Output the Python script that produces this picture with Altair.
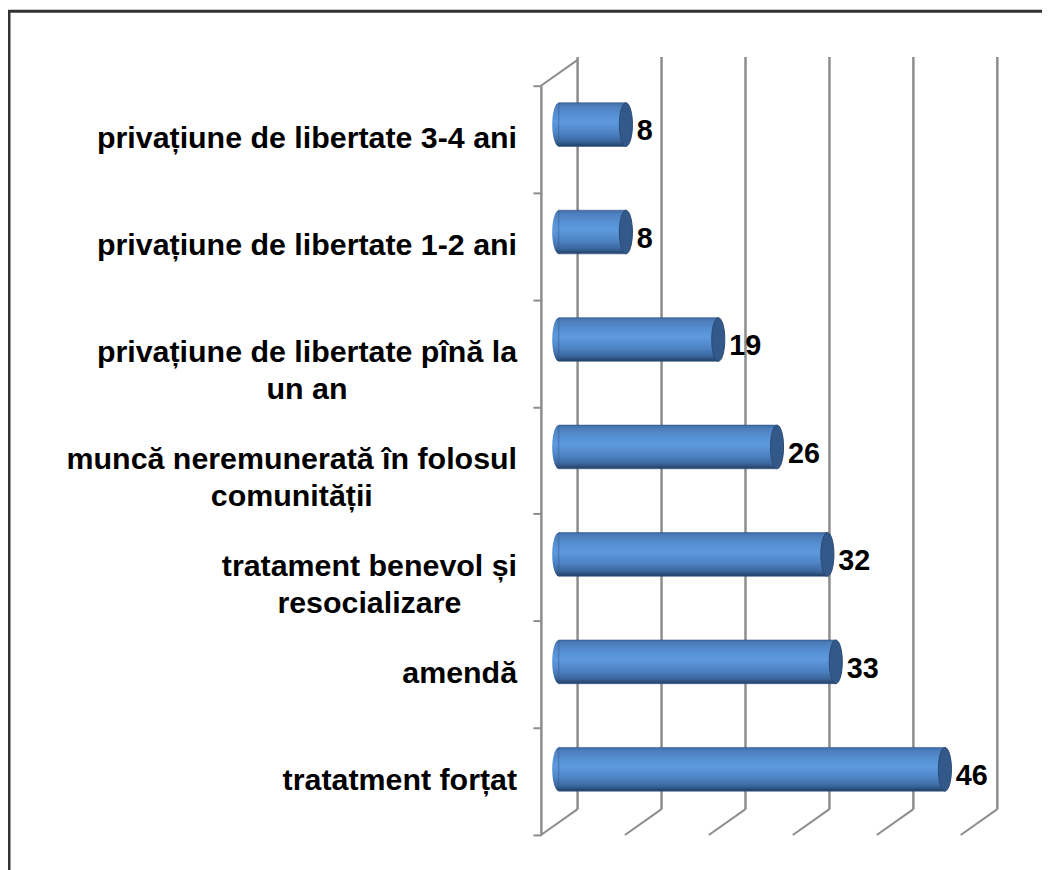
import altair as alt
import pandas as pd

# ---------------- data ----------------
categories = [
    "privațiune de libertate 3-4 ani",
    "privațiune de libertate 1-2 ani",
    "privațiune de libertate pînă la un an",
    "muncă neremunerată în folosul comunității",
    "tratament benevol și resocializare",
    "amendă",
    "tratatment forțat",
]
label_lines = [
    ["privațiune de libertate 3-4 ani"],
    ["privațiune de libertate 1-2 ani"],
    ["privațiune de libertate pînă la", "un an"],
    ["muncă neremunerată în folosul", "comunității"],
    ["tratament benevol și", "resocializare"],
    ["amendă"],
    ["tratatment forțat"],
]
values = [8, 8, 19, 26, 32, 33, 46]
grid_values = [0, 10, 20, 30, 40, 50]

# ---------------- styling ----------------
FONT = "Liberation Sans, Arial, sans-serif"
LABEL_SIZE = 30.6
VALUE_SIZE = 29
GRID_COLOR = "#8c8c8c"

# Arial/Liberation Sans Bold advance widths (per 1000 em) used to centre wrapped lines
ADV = {" ": 278, "-": 333, "a": 556, "b": 611, "c": 556, "d": 611, "e": 556, "f": 333,
       "g": 611, "h": 611, "i": 278, "j": 278, "k": 556, "l": 278, "m": 889, "n": 611,
       "o": 611, "p": 611, "q": 611, "r": 389, "s": 556, "t": 333, "u": 611, "v": 556,
       "w": 778, "x": 556, "y": 556, "z": 500, "ă": 556, "î": 278, "â": 556, "ș": 556,
       "ț": 333}


def text_width(s, size):
    return sum(ADV.get(ch, 556 if ch.isdigit() else 600) for ch in s) * size / 1000.0


labels_df = pd.DataFrame({
    "cat": categories,
    "idx": list(range(len(categories))),
    "lines": label_lines,
})
bars_df = pd.DataFrame({"cat": categories, "value": values})
grid_df = pd.DataFrame({"g": grid_values})
one_df = pd.DataFrame({"k": [0]})

# dx for wrapped labels: centre of the first (longest) line, right edge kept at the axis
parts = []
for i, ln in enumerate(label_lines):
    if len(ln) > 1:
        parts.append(f"datum.idx == {i} ? {-text_width(ln[0], LABEL_SIZE) / 2:.1f}")
dx_expr = " : ".join(parts) + " : 0"
align_expr = "length(datum.lines) > 1 ? 'center' : 'right'"

bar_x = alt.Scale(domain=[0, 50], range=[18, 441], nice=False, zero=False)
grid_x = alt.Scale(domain=[0, 50], range=[37, 460], nice=False, zero=False)
bar_y = alt.Scale(domain=categories, range=[14, 772], paddingInner=0, paddingOuter=0)
front_y = alt.Scale(domain=categories, range=[29, 784], paddingInner=0, paddingOuter=0)

gradient = alt.Gradient(
    gradient="linear", x1=0, x2=0, y1=0, y2=1,
    stops=[
        alt.GradientStop(color="#3f6ba1", offset=0),
        alt.GradientStop(color="#4c7ebc", offset=0.07),
        alt.GradientStop(color="#5892d6", offset=0.3),
        alt.GradientStop(color="#5e99de", offset=0.45),
        alt.GradientStop(color="#4d83c4", offset=0.7),
        alt.GradientStop(color="#3b679e", offset=0.88),
        alt.GradientStop(color="#213e63", offset=1),
    ],
)

ELLIPSE = ("M0,-1 C0.166,-1 0.3,-0.552 0.3,0 C0.3,0.552 0.166,1 0,1 "
           "C-0.166,1 -0.3,0.552 -0.3,0 C-0.3,-0.552 -0.166,-1 0,-1 Z")
SLANT = "M0,0 L-1.42,1"
BAR_H = 44

# ---------------- layers ----------------
frame = alt.Chart(one_df).mark_rect(filled=False, stroke="#333333", strokeWidth=3).encode(
    x=alt.value(-536), x2=alt.value(560), y=alt.value(-46), y2=alt.value(900)
)

grid = alt.Chart(grid_df).mark_rule(color=GRID_COLOR, strokeWidth=2.5).encode(
    x=alt.X("g:Q", scale=grid_x, axis=None),
    y=alt.value(0), y2=alt.value(758),
)

floor = alt.Chart(grid_df).mark_point(
    shape=SLANT, filled=False, stroke=GRID_COLOR, strokeWidth=2, opacity=1, size=2704
).encode(
    x=alt.X("g:Q", scale=grid_x, axis=None),
    y=alt.value(758),
)

top_slant = alt.Chart(grid_df).transform_filter("datum.g == 0").mark_point(
    shape=SLANT, filled=False, stroke=GRID_COLOR, strokeWidth=2, opacity=1, size=2704
).encode(
    x=alt.X("g:Q", scale=grid_x, axis=None),
    y=alt.value(3),
)

cat_labels = alt.Chart(labels_df).mark_text(
    font=FONT, fontSize=LABEL_SIZE, fontWeight="bold", color="black",
    baseline="middle", lineHeight=37,
    align=alt.ExprRef(align_expr), dx=alt.ExprRef(dx_expr),
).encode(
    y=alt.Y("cat:N", scale=front_y, sort=categories,
            axis=alt.Axis(title=None, labels=False, domainColor=GRID_COLOR, domainWidth=2.5,
                          tickColor=GRID_COLOR, tickWidth=2, tickSize=8, tickBand="extent",
                          grid=False)),
    x=alt.value(-24),
    text=alt.Text("lines:N"),
)

left_caps = alt.Chart(bars_df).transform_calculate(zero="0").mark_point(
    shape=ELLIPSE, filled=True, fill=gradient, opacity=1, size=BAR_H * BAR_H, strokeWidth=0
).encode(
    x=alt.X("zero:Q", scale=bar_x, axis=None),
    y=alt.Y("cat:N", scale=bar_y, sort=categories, axis=None),
)

bars = alt.Chart(bars_df).mark_bar(size=BAR_H, fill=gradient, stroke="#34598a", strokeWidth=0.6).encode(
    x=alt.X("value:Q", scale=bar_x, axis=None),
    y=alt.Y("cat:N", scale=bar_y, sort=categories, axis=None),
)

right_caps = alt.Chart(bars_df).mark_point(
    shape=ELLIPSE, filled=True, fill="#33598a", stroke="#2a4a72", strokeWidth=1,
    opacity=1, size=BAR_H * BAR_H
).encode(
    x=alt.X("value:Q", scale=bar_x, axis=None),
    y=alt.Y("cat:N", scale=bar_y, sort=categories, axis=None),
)

value_text = alt.Chart(bars_df).mark_text(
    font=FONT, fontSize=VALUE_SIZE, fontWeight="bold", color="black",
    align="left", baseline="middle", dx=11, dy=7
).encode(
    x=alt.X("value:Q", scale=bar_x, axis=None),
    y=alt.Y("cat:N", scale=bar_y, sort=categories, axis=None),
    text=alt.Text("value:Q"),
)

chart = alt.layer(
    frame, grid, floor, top_slant, cat_labels, left_caps, bars, right_caps, value_text
).resolve_scale(
    x="independent", y="independent"
).properties(
    width=470, height=784,
    autosize=alt.AutoSizeParams(type="none"),
    padding={"left": 537, "top": 46, "right": 35, "bottom": 32},
    background="white",
).configure_view(stroke=None)

chart.save("out.html", embed_options={"renderer": "svg", "actions": False})
